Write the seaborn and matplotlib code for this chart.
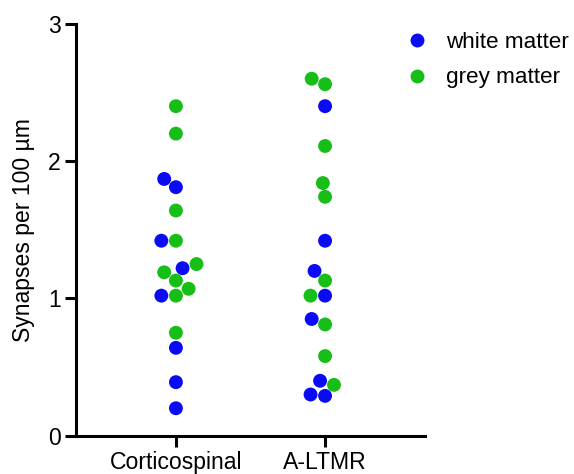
import pandas as pd
import matplotlib
matplotlib.use('Agg')
import matplotlib.pyplot as plt
import seaborn as sns

#%% data
categories = ['Corticospinal', 'A-LTMR']
groups = ['white matter', 'grey matter']

cst_white = [1.87, 1.81, 1.42, 1.22, 1.02, 0.64, 0.39, 0.20]
cst_grey = [2.40, 2.20, 1.64, 1.42, 1.25, 1.19, 1.13, 1.07, 1.02, 0.75]
ltmr_white = [2.40, 1.42, 1.20, 1.02, 0.85, 0.40, 0.30, 0.29]
ltmr_grey = [2.60, 2.56, 2.11, 1.84, 1.74, 1.13, 1.02, 0.81, 0.58, 0.37]

rows = []
for cat, grp, vals in [('Corticospinal', 'white matter', cst_white),
                       ('Corticospinal', 'grey matter', cst_grey),
                       ('A-LTMR', 'white matter', ltmr_white),
                       ('A-LTMR', 'grey matter', ltmr_grey)]:
    for v in vals:
        rows.append({'neuron': cat, 'region': grp, 'synapses': v})
df = pd.DataFrame(rows)

#%% plot
sns.set_style('ticks')
plt.rcParams['font.family'] = ['Liberation Sans', 'DejaVu Sans']
plt.rcParams['text.color'] = 'black'
plt.rcParams['axes.labelcolor'] = 'black'
fs = 16.6

fig = plt.figure(figsize=(5.74, 4.74), dpi=100)
ax = fig.add_axes([0.1324, 0.0808, 0.608, 0.869])

palette = {'white matter': '#0A0AF5', 'grey matter': '#17BE17'}
sns.swarmplot(data=df, x='neuron', y='synapses', hue='region',
              order=categories, hue_order=groups, palette=palette,
              size=10, linewidth=0, dodge=False, ax=ax)

ax.set_xlim(-0.67, 1.67)
ax.set_ylim(0, 3)
ax.set_yticks([0, 1, 2, 3])
ax.set_xlabel('')
ax.set_ylabel('Synapses per 100 µm', fontsize=fs, labelpad=9, color='black')
ax.tick_params(axis='both', labelsize=fs, width=2.2, length=8, color='black',
               labelcolor='black', pad=3)
sns.despine(ax=ax)
for side in ['left', 'bottom']:
    ax.spines[side].set_linewidth(2.2)
    ax.spines[side].set_color('black')

ax.legend(loc='upper left', bbox_to_anchor=(0.688, 0.957),
          bbox_transform=fig.transFigure, frameon=False, fontsize=16.2,
          handlelength=1, handletextpad=0.75, borderpad=0, labelspacing=0.66,
          markerscale=1.0, labelcolor='black')

fig.savefig('out.png', dpi=100)
